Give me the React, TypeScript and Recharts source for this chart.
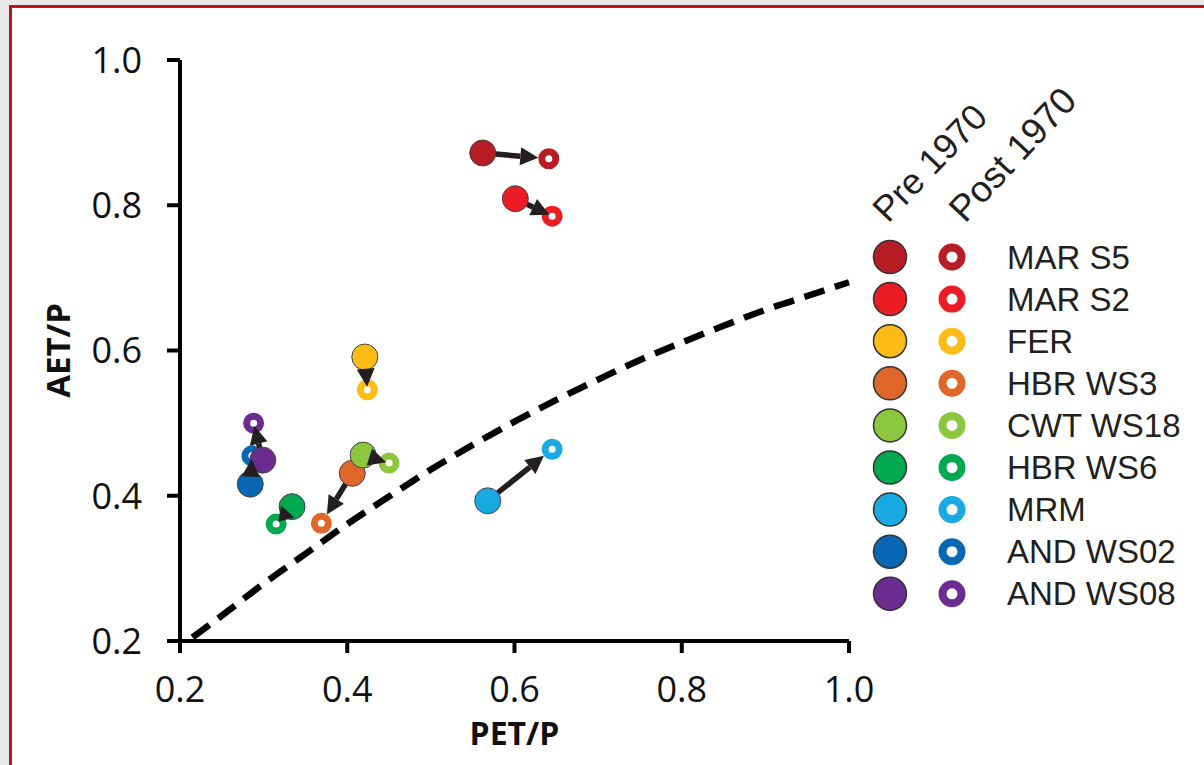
import React from 'react';
import {
  ComposedChart,
  Scatter,
  Line,
  XAxis,
  YAxis,
  ReferenceLine,
  Legend,
  Label,
} from 'recharts';

// sites, pre/post 1970 positions
const sites = ['MAR S5', 'MAR S2', 'FER', 'HBR WS3', 'CWT WS18', 'HBR WS6', 'MRM', 'AND WS02', 'AND WS08'];
const siteColors = ['#b81c24', '#ec1c24', '#fdbb15', '#e0672a', '#8cc63f', '#00a84f', '#1aaae2', '#0867b2', '#6a2c91'];
const preX = [0.562, 0.601, 0.421, 0.406, 0.419, 0.334, 0.568, 0.284, 0.299];
const preY = [0.872, 0.809, 0.591, 0.431, 0.456, 0.385, 0.393, 0.416, 0.449];
const postX = [0.641, 0.645, 0.424, 0.369, 0.45, 0.315, 0.645, 0.286, 0.288];
const postY = [0.864, 0.785, 0.546, 0.362, 0.445, 0.361, 0.464, 0.455, 0.5];

// dashed curve
const curveX = [0.215, 0.25, 0.3, 0.35, 0.4, 0.45, 0.5, 0.55, 0.6, 0.65, 0.7, 0.75, 0.8, 0.85, 0.9, 0.95, 1.0];
const curveY = [0.205, 0.235, 0.279, 0.32, 0.361, 0.399, 0.436, 0.47, 0.502, 0.532, 0.56, 0.587, 0.611, 0.634, 0.656, 0.675, 0.694];

const axisTicks = [0.2, 0.4, 0.6, 0.8, 1.0];

const preData = sites.map((name, i) => ({ name, x: preX[i], y: preY[i], color: siteColors[i] }));
const postData = sites.map((name, i) => ({ name, x: postX[i], y: postY[i], color: siteColors[i] }));
const curveData = curveX.map((x, i) => ({ x, y: curveY[i] }));

const PRE_R = 13;
const POST_R = 10.5;
const HEAD = 18;
const INK = '#231f20';
const tickFont = { fill: '#111', fontSize: 36, fontFamily: '"Open Sans", sans-serif' };

const PreDot = (props: any) => (
  <circle cx={props.cx} cy={props.cy} r={PRE_R} fill={props.payload.color} stroke="#444" strokeWidth={1} />
);

const PostDot = (props: any) => (
  <circle cx={props.cx} cy={props.cy} r={7} fill="none" stroke={props.payload.color} strokeWidth={7} />
);

// arrow from pre circle edge towards the post ring
const Arrow = (props: any) => {
  const { x1, y1, x2, y2 } = props;
  const len = Math.hypot(x2 - x1, y2 - y1);
  const ux = (x2 - x1) / len;
  const uy = (y2 - y1) / len;
  let tipOff = POST_R;
  if (len - PRE_R - tipOff < HEAD) tipOff = 3;
  const tip = len - tipOff;
  const head = Math.min(HEAD, tip - PRE_R * 0.5);
  const base = tip - head;
  const tx = x1 + ux * tip;
  const ty = y1 + uy * tip;
  const bx = x1 + ux * base;
  const by = y1 + uy * base;
  const w = 9;
  return (
    <g>
      {base > PRE_R && (
        <line x1={x1 + ux * PRE_R} y1={y1 + uy * PRE_R} x2={bx} y2={by} stroke={INK} strokeWidth={5.5} />
      )}
      <polygon
        points={`${tx},${ty} ${bx - uy * w},${by + ux * w} ${bx + uy * w},${by - ux * w}`}
        fill={INK}
      />
    </g>
  );
};

const YTitle = (props: any) => {
  const vb = props.viewBox;
  const cx = vb.x - 30;
  const cy = vb.y + vb.height / 2;
  return (
    <text x={cx} y={cy} transform={`rotate(-90 ${cx} ${cy})`} textAnchor="middle"
      fontFamily='"Open Sans", sans-serif' fontWeight="bold" fontSize={33} fill="#111">
      AET/P
    </text>
  );
};

const XTitle = (props: any) => {
  const vb = props.viewBox;
  return (
    <text x={vb.x + vb.width / 2} y={vb.y + 104} textAnchor="middle"
      fontFamily='"Open Sans", sans-serif' fontWeight="bold" fontSize={32} fill="#111">
      PET/P
    </text>
  );
};

const renderLegend = () => (
  <svg width={354} height={600} style={{ display: 'block' }}>
    <g fontFamily='"Liberation Sans", Arial, sans-serif' fill={INK}>
      <text transform="translate(38,184) rotate(-46)" fontSize={36}>Pre 1970</text>
      <text transform="translate(115,184) rotate(-47)" fontSize={37}>Post 1970</text>
      {sites.map((name, i) => {
        const cy = 217 + i * 42.1;
        return (
          <g key={name}>
            <circle cx={40} cy={cy} r={16.5} fill={siteColors[i]} stroke="#333" strokeWidth={1.5} />
            <circle cx={102} cy={cy} r={9.5} fill="none" stroke={siteColors[i]} strokeWidth={8} />
            <text x={157} y={cy + 11.5} fontSize={33}>{name}</text>
          </g>
        );
      })}
    </g>
  </svg>
);

export default function App() {
  return (
    <div style={{ position: 'absolute', left: 0, top: 0, width: 1204, height: 765, background: '#e8e8e8', overflow: 'hidden' }}>
      <div style={{ position: 'absolute', left: 9, top: 5, width: 1200, height: 770, background: '#fff', borderLeft: '3px solid #c0141c', borderTop: '3px solid #c0141c' }} />
      <div style={{ position: 'absolute', left: 0, top: 0 }}>
        <ComposedChart width={1204} height={765} margin={{ top: 60, right: 355, bottom: 64, left: 100 }}>
          <XAxis
            type="number"
            dataKey="x"
            domain={[0.2, 1.0]}
            ticks={axisTicks}
            interval={0}
            height={60}
            tickFormatter={(v: number) => v.toFixed(1)}
            tick={tickFont}
            tickSize={12}
            tickMargin={23}
            axisLine={{ stroke: '#000', strokeWidth: 4 }}
            tickLine={{ stroke: '#000', strokeWidth: 4 }}
          >
            <Label content={XTitle} />
          </XAxis>
          <YAxis
            type="number"
            dataKey="y"
            domain={[0.2, 1.0]}
            ticks={axisTicks}
            interval={0}
            width={80}
            tickFormatter={(v: number) => v.toFixed(1)}
            tick={tickFont}
            tickSize={13}
            tickMargin={25}
            axisLine={{ stroke: '#000', strokeWidth: 4 }}
            tickLine={{ stroke: '#000', strokeWidth: 4 }}
          >
            <Label content={YTitle} />
          </YAxis>
          <Line
            data={curveData}
            dataKey="y"
            type="monotone"
            stroke="#000"
            strokeWidth={6.5}
            strokeDasharray="21 11"
            dot={false}
            activeDot={false}
            legendType="none"
            isAnimationActive={false}
          />
          <Scatter data={postData} shape={PostDot} isAnimationActive={false} legendType="none" />
          <Scatter data={preData} shape={PreDot} isAnimationActive={false} legendType="none" />
          {sites.map((name, i) => (
            <ReferenceLine
              key={name}
              segment={[{ x: preX[i], y: preY[i] }, { x: postX[i], y: postY[i] }]}
              shape={Arrow}
              zIndex={1000}
            />
          ))}
          <Legend
            content={renderLegend}
            layout="horizontal"
            verticalAlign="middle"
            align="center"
            wrapperStyle={{ left: 850, top: 40, width: 354, height: 600 }}
          />
        </ComposedChart>
      </div>
    </div>
  );
}
